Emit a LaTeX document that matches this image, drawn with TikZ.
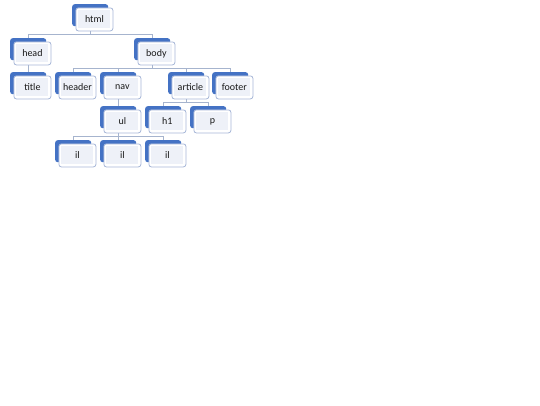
\documentclass[tikz,border=0pt]{standalone}
\usepackage{fontspec}
\setmainfont{Carlito}
\usetikzlibrary{backgrounds}
\definecolor{boxblue}{HTML}{4472C4}
\definecolor{edgegrey}{HTML}{A8B8D8}
\definecolor{innerfill}{HTML}{EEF1F8}
\definecolor{linegrey}{HTML}{A6B4CE}
\newcommand\treenode[4]{%
  \node[backbox] (#1) at (#2,#3) {};
  \node[frontbox] (#1-f) at ([xshift=3.5pt,yshift=-3.5pt]#1.north west) {};
  \node[innerbox] (#1-t) at (#1-f.center) {#4};
}
\begin{document}
\begin{tikzpicture}[x=1pt,y=-1pt,
  backbox/.style={draw=none, fill=boxblue, rounded corners=2.5pt, minimum width=36pt, minimum height=22pt, inner sep=0pt, anchor=north west},
  frontbox/.style={draw=edgegrey, line width=0.8pt, fill=white, rounded corners=2.5pt, minimum width=37pt, minimum height=23pt, inner sep=0pt, anchor=north west},
  innerbox/.style={fill=innerfill, minimum width=32pt, minimum height=18pt, inner sep=0pt, font=\fontsize{10}{12}\selectfont, text=black!90},
  conn/.style={draw=linegrey, line width=0.8pt}]
\useasboundingbox (0,0) rectangle (540,405);
\treenode{html}{72}{4}{html}
\treenode{head}{10}{38}{head}
\treenode{body}{134}{38}{body}
\treenode{title}{10}{72}{title}
\treenode{header}{55}{72}{header}
\treenode{nav}{100}{72}{nav}
\treenode{article}{168}{72}{article}
\treenode{footer}{212}{72}{footer}
\treenode{ul}{100}{106}{ul}
\treenode{h1}{145}{106}{h1}
\treenode{p}{190}{106}{p}
\treenode{il1}{55}{140}{il}
\treenode{il2}{100}{140}{il}
\treenode{il3}{145}{140}{il}
\begin{scope}[on background layer]
  \fill[white] (0,0) rectangle (540,405);
  \foreach \c in {head,body} \draw[conn] (html.south) -- ++(0,8) -| (\c.north);
  \draw[conn] (head.south) -- (title.north);
  \foreach \c in {header,nav,article,footer} \draw[conn] (body.south) -- ++(0,8) -| (\c.north);
  \draw[conn] (nav.south) -- (ul.north);
  \foreach \c in {h1,p} \draw[conn] (article.south) -- ++(0,8) -| (\c.north);
  \foreach \c in {il1,il2,il3} \draw[conn] (ul.south) -- ++(0,8) -| (\c.north);
\end{scope}
\end{tikzpicture}
\end{document}
